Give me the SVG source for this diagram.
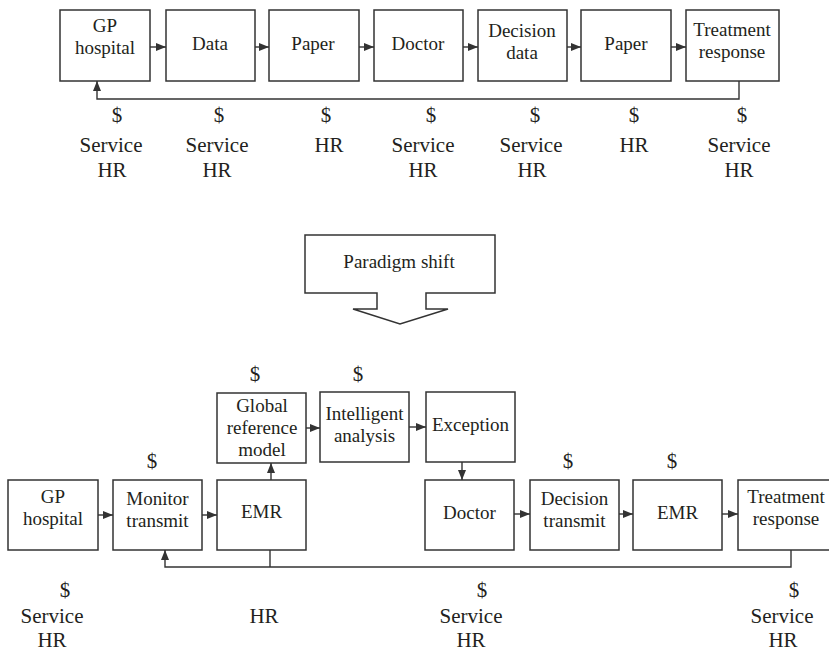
<svg xmlns="http://www.w3.org/2000/svg" width="829" height="652" viewBox="0 0 829 652">
<style>
.box{fill:#fff;stroke:#333;stroke-width:1.5}
.ln{fill:none;stroke:#333;stroke-width:1.4}
.t{font-family:'Liberation Serif','Noto Serif','DejaVu Serif',serif;font-size:19px;fill:#231f20;text-anchor:middle}
.l{font-family:'Liberation Serif','Noto Serif','DejaVu Serif',serif;font-size:21px;fill:#231f20;text-anchor:middle}
</style>
<defs>
<marker id="ah" viewBox="0 0 10 8" refX="10" refY="4" markerWidth="10" markerHeight="8" markerUnits="userSpaceOnUse" orient="auto">
<path d="M0,0 L10,4 L0,8 Z" fill="#333"/>
</marker>
</defs>
<rect width="829" height="652" fill="#fff"/>

<g id="t-gp"><rect class="box" x="60" y="10" width="90" height="71"/><text class="t" x="105" y="32">GP</text><text class="t" x="105" y="54">hospital</text></g>
<g id="t-data"><rect class="box" x="166" y="10" width="89" height="71"/><text class="t" x="210" y="50">Data</text></g>
<g id="t-paper1"><rect class="box" x="269" y="10" width="90" height="71"/><text class="t" x="313" y="50">Paper</text></g>
<g id="t-doctor"><rect class="box" x="374" y="10" width="89" height="71"/><text class="t" x="418" y="50">Doctor</text></g>
<g id="t-decision"><rect class="box" x="478" y="10" width="89" height="71"/><text class="t" x="522" y="37">Decision</text><text class="t" x="522" y="59">data</text></g>
<g id="t-paper2"><rect class="box" x="581" y="10" width="90" height="71"/><text class="t" x="626" y="50">Paper</text></g>
<g id="t-treat"><rect class="box" x="686" y="10" width="93" height="71"/><text class="t" x="732" y="36">Treatment</text><text class="t" x="732" y="58">response</text></g>

<g id="paradigm"><path class="box" d="M305,235 H495 V293 H426 V309 H448 L400,324 L353,309 H377 V293 H305 Z"/><text class="t" x="399" y="268">Paradigm shift</text></g>

<g id="b-gp"><rect class="box" x="8" y="480" width="90" height="70"/><text class="t" x="53" y="503">GP</text><text class="t" x="53" y="525">hospital</text></g>
<g id="b-monitor"><rect class="box" x="113" y="480" width="89" height="70"/><text class="t" x="157.5" y="505">Monitor</text><text class="t" x="157.5" y="527">transmit</text></g>
<g id="b-emr1"><rect class="box" x="217" y="480" width="89" height="70"/><text class="t" x="261.5" y="518">EMR</text></g>
<g id="b-global"><rect class="box" x="217" y="393" width="89" height="70"/><text class="t" x="262" y="412">Global</text><text class="t" x="262" y="434">reference</text><text class="t" x="262" y="456">model</text></g>
<g id="b-intel"><rect class="box" x="320" y="392" width="89" height="70"/><text class="t" x="364.5" y="420">Intelligent</text><text class="t" x="364.5" y="442">analysis</text></g>
<g id="b-except"><rect class="box" x="426" y="392" width="89" height="70"/><text class="t" x="470.5" y="431">Exception</text></g>
<g id="b-doctor"><rect class="box" x="425" y="480" width="89" height="70"/><text class="t" x="469.5" y="519">Doctor</text></g>
<g id="b-decision"><rect class="box" x="530" y="480" width="89" height="70"/><text class="t" x="574.5" y="505">Decision</text><text class="t" x="574.5" y="527">transmit</text></g>
<g id="b-emr2"><rect class="box" x="633" y="480" width="89" height="70"/><text class="t" x="677.5" y="519">EMR</text></g>
<g id="b-treat"><rect class="box" x="738" y="480" width="95" height="70"/><text class="t" x="786" y="503">Treatment</text><text class="t" x="786" y="525">response</text></g>

<g id="connectors">
<line class="ln" x1="150" y1="47" x2="166" y2="47" marker-end="url(#ah)"/>
<line class="ln" x1="255" y1="47" x2="269" y2="47" marker-end="url(#ah)"/>
<line class="ln" x1="359" y1="47" x2="374" y2="47" marker-end="url(#ah)"/>
<line class="ln" x1="463" y1="47" x2="478" y2="47" marker-end="url(#ah)"/>
<line class="ln" x1="567" y1="47" x2="581" y2="47" marker-end="url(#ah)"/>
<line class="ln" x1="671" y1="47" x2="686" y2="47" marker-end="url(#ah)"/>
<path class="ln" d="M739,81 V99 H97 V81" marker-end="url(#ah)"/>
<line class="ln" x1="98" y1="515" x2="113" y2="515" marker-end="url(#ah)"/>
<line class="ln" x1="202" y1="515" x2="217" y2="515" marker-end="url(#ah)"/>
<line class="ln" x1="271" y1="480" x2="271" y2="463" marker-end="url(#ah)"/>
<line class="ln" x1="306" y1="428" x2="320" y2="428" marker-end="url(#ah)"/>
<line class="ln" x1="409" y1="427" x2="426" y2="427" marker-end="url(#ah)"/>
<line class="ln" x1="462" y1="462" x2="462" y2="480" marker-end="url(#ah)"/>
<line class="ln" x1="514" y1="514" x2="530" y2="514" marker-end="url(#ah)"/>
<line class="ln" x1="619" y1="514" x2="633" y2="514" marker-end="url(#ah)"/>
<line class="ln" x1="722" y1="514" x2="738" y2="514" marker-end="url(#ah)"/>
<path class="ln" d="M791,550 V567 H165 V550" marker-end="url(#ah)"/>
<line class="ln" x1="270" y1="550" x2="270" y2="567"/>
</g>

<g id="top-labels">
<text class="l" x="117" y="122">$</text><text class="l" x="111" y="152">Service</text><text class="l" x="112" y="177">HR</text>
<text class="l" x="219" y="122">$</text><text class="l" x="217" y="152">Service</text><text class="l" x="217" y="177">HR</text>
<text class="l" x="326" y="122">$</text><text class="l" x="329" y="152">HR</text>
<text class="l" x="431" y="122">$</text><text class="l" x="423" y="152">Service</text><text class="l" x="423" y="177">HR</text>
<text class="l" x="535" y="122">$</text><text class="l" x="531" y="152">Service</text><text class="l" x="532" y="177">HR</text>
<text class="l" x="634" y="122">$</text><text class="l" x="634" y="152">HR</text>
<text class="l" x="742" y="122">$</text><text class="l" x="739" y="152">Service</text><text class="l" x="739" y="177">HR</text>
</g>

<g id="bottom-labels">
<text class="l" x="152" y="468">$</text>
<text class="l" x="255" y="381">$</text>
<text class="l" x="358" y="381">$</text>
<text class="l" x="568" y="468">$</text>
<text class="l" x="672" y="468">$</text>
<text class="l" x="65" y="597">$</text><text class="l" x="52" y="623">Service</text><text class="l" x="52" y="647">HR</text>
<text class="l" x="264" y="623">HR</text>
<text class="l" x="482" y="597">$</text><text class="l" x="471" y="623">Service</text><text class="l" x="471" y="647">HR</text>
<text class="l" x="794" y="597">$</text><text class="l" x="782" y="623">Service</text><text class="l" x="783" y="647">HR</text>
</g>
</svg>
